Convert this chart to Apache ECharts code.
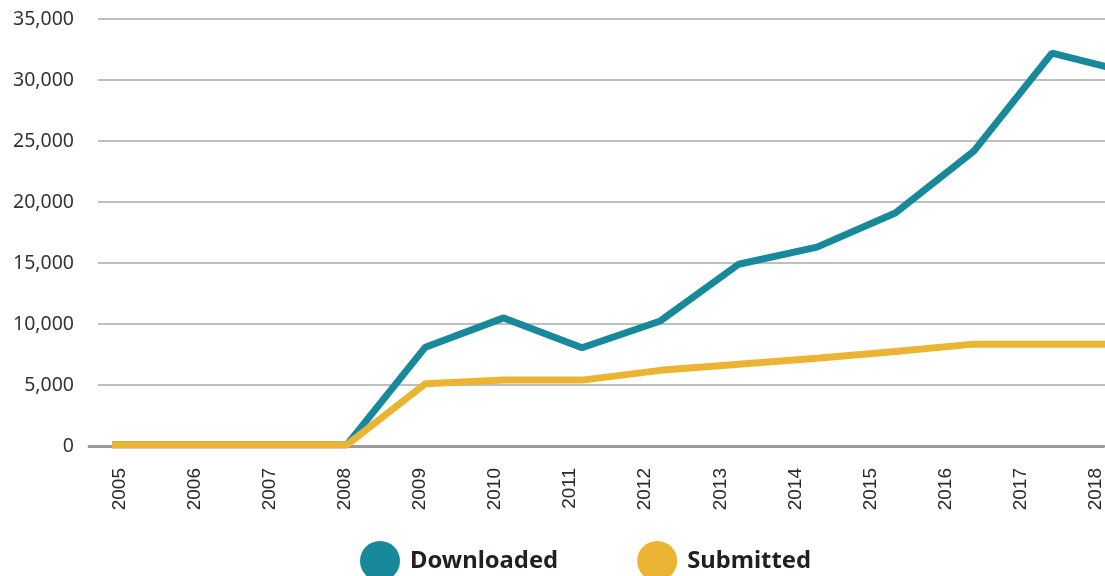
<!DOCTYPE html>
<html>
<head>
<meta charset="utf-8">
<script src="https://cdn.jsdelivr.net/npm/echarts@6/dist/echarts.min.js"></script>
<style>html,body{margin:0;padding:0;background:#fff}#c{width:1105px;height:576px}</style>
</head>
<body>
<div id="c"></div>
<script>
const years = [2005,2006,2007,2008,2009,2010,2011,2012,2013,2014,2015,2016,2017,2018];
const downloaded = [100,100,100,100,8100,10500,8050,10250,14900,16300,19100,24150,32200,30600];
const submitted  = [100,100,100,100,5100,5400,5400,6200,6700,7200,7750,8350,8350,8350];
const yTicks = [0,5000,10000,15000,20000,25000,30000,35000];
const seriesNames = ['Downloaded','Submitted'];
const colors = ['#17899b','#ebb533'];

const chart = echarts.init(document.getElementById('c'), null, {renderer:'canvas'});
const pairs = arr => years.map((y,i)=>[y,arr[i]]);
chart.setOption({
  animation:false,
  color: colors,
  grid:[
    {left:98,right:0,top:19,bottom:130},
    {left:89,right:0,top:19,bottom:130}
  ],
  xAxis:[
    {gridIndex:0,type:'value',min:2004.821,max:2017.677,show:false},
    {gridIndex:1,type:'value',min:2004.5875,max:2018.1075,
     axisLine:{show:true,lineStyle:{color:'#999',width:3}},
     axisTick:{show:false},splitLine:{show:false},
     axisLabel:{customValues:years,rotate:90,margin:22,color:'#2a2a2a',fontSize:19,
       fontFamily:'Liberation Sans',formatter:v=>String(Math.round(v)),showMinLabel:true,showMaxLabel:true}}
  ],
  yAxis:[
    {gridIndex:0,type:'value',min:0,max:35000,interval:5000,
     axisLine:{show:false},axisTick:{show:false},
     splitLine:{lineStyle:{color:'#aaa',width:1.5}},
     axisLabel:{margin:24,color:'#333',fontSize:19.5,fontFamily:'Noto Sans',
       formatter:v=>v.toLocaleString('en-US')}},
    {gridIndex:1,type:'value',min:0,max:1,show:false}
  ],
  legend:{
    data:seriesNames,left:355,top:536,icon:'circle',itemWidth:40,itemHeight:40,itemGap:79,
    textStyle:{fontSize:23.8,fontWeight:'bold',color:'#231f20',fontFamily:'Noto Sans',padding:[0,0,6,5]}
  },
  series:[
    {name:seriesNames[0],type:'line',xAxisIndex:0,yAxisIndex:0,data:pairs(downloaded),
     showSymbol:false,symbol:'none',lineStyle:{width:7,color:colors[0]}},
    {name:seriesNames[1],type:'line',xAxisIndex:0,yAxisIndex:0,data:pairs(submitted),
     showSymbol:false,symbol:'none',lineStyle:{width:7,color:colors[1]}}
  ]
});
</script>
</body>
</html>
